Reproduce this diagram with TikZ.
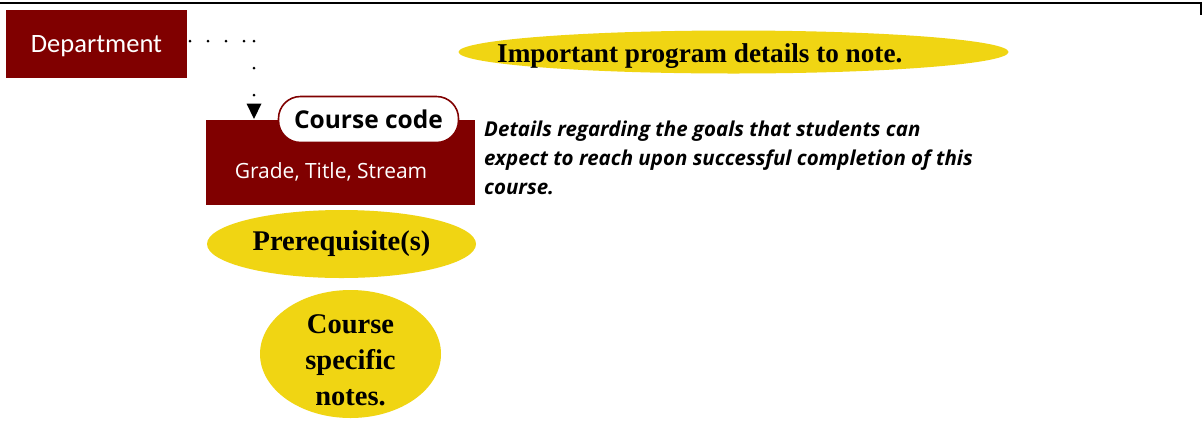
\documentclass[tikz,border=0pt]{standalone}
\usepackage{fontspec}
\setmainfont{Liberation Serif}
\newfontfamily\uisans{Open Sans}
\newfontfamily\deptfont{Carlito}
\usetikzlibrary{shapes.geometric,arrows.meta}
\definecolor{maroon}{HTML}{800000}
\definecolor{gold}{HTML}{F0D513}
\tikzset{
  redbox/.style={fill=maroon, draw=none, text=white},
  goldell/.style={ellipse, fill=gold, draw=none, inner sep=0pt, font=\bfseries, text=black},
  dotmark/.style={fill=black, circle, inner sep=0pt, minimum size=3pt},
}
\begin{document}
\begin{tikzpicture}[x=1pt,y=-1pt]
\useasboundingbox (0,0) rectangle (1204,424);
\fill[white] (0,0) rectangle (1204,424);
% top rule
\draw[line width=2.2pt] (0,3) -- (1201,3) -- (1201,15);
% department
\node[redbox, minimum width=181pt, minimum height=68pt, font=\deptfont\fontsize{26.5}{30}\selectfont] (dept) at (96.5,44) {};
\node[text=white, font=\deptfont\fontsize{26.5}{30}\selectfont] (deptt) at (96.5,46) {Department};
% course box
\node[redbox, minimum width=269pt, minimum height=85pt, anchor=north west, inner sep=0pt] (course) at (206,120) {};
\node[text=white, font=\uisans\fontsize{21}{24}\selectfont] (gts) at (331,172) {Grade, Title, Stream};
% course code
\node[draw=maroon, line width=1.6pt, fill=white, rounded corners=22pt, minimum width=180pt, minimum height=46pt, font=\uisans\bfseries\fontsize{24.5}{28}\selectfont, inner sep=0pt] (code) at (368.5,119.5) {Course code};
% dotted connector
\node[dotmark] (d1) at (190,41) {};
\node[dotmark] (d2) at (208,41) {};
\node[dotmark] (d3) at (226,41) {};
\node[dotmark] (d4) at (244,41) {};
\node[dotmark] (d5) at (254,41) {};
\node[dotmark] (d6) at (254,68) {};
\node[dotmark] (d7) at (254,95) {};
\fill (246.5,103.5) -- (261.5,103.5) -- (254,119) -- cycle;
% important ellipse
\node[goldell, minimum width=550pt, minimum height=43pt] (imp) at (733.5,52) {};
\node[font=\bfseries\fontsize{27.2}{30}\selectfont, anchor=west, inner sep=0pt] (impt) at (497,56) {Important program details to note.};
% details
\node[anchor=north west, align=left, inner sep=0pt, font=\uisans\bfseries\itshape\fontsize{20.5}{29}\selectfont] (det) at (484,121) {Details regarding the goals that students can\\expect to reach upon successful completion of this\\course.};
% prerequisites
\node[goldell, minimum width=269pt, minimum height=68pt, font=\bfseries\fontsize{28.5}{32}\selectfont] (pre) at (341.5,244) {Prerequisite(s)};
% course specific notes
\node[goldell, minimum width=181pt, minimum height=128pt] (notes) at (350.5,354) {};
\node[align=center, font=\bfseries\fontsize{28.5}{36}\selectfont, inner sep=0pt] (notest) at (350.5,360) {Course\\specific\\notes.};
\end{tikzpicture}
\end{document}
